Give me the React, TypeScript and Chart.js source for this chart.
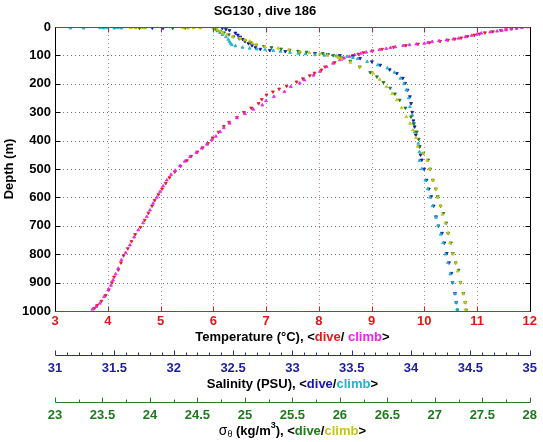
import { useEffect, useRef } from 'react';
import { Chart, registerables } from 'chart.js';

Chart.register(...registerables);

const FONT = '"Liberation Sans", Arial, Helvetica, sans-serif';
const TITLE = 'SG130 , dive 186';

// ---- Temperature (°C) ----
const tempDiveDepth = [0, 3, 6, 9, 12, 16, 20, 24, 28, 33, 38, 42, 46, 50, 55, 60, 65, 71, 78, 84, 90, 95, 100, 112, 125, 140, 151, 162, 171, 182, 193, 208, 218, 228, 239, 255, 269, 285, 300, 318, 335, 350, 370, 390, 410, 425, 440, 455, 470, 490, 510, 530, 550, 570, 590, 610, 630, 655, 680, 705, 730, 755, 780, 805, 830, 855, 880, 900, 925, 945, 965, 980, 990];
const tempDive = [11.85, 11.75, 11.65, 11.55, 11.45, 11.3, 11.15, 11.05, 10.95, 10.82, 10.7, 10.58, 10.45, 10.3, 10.1, 9.88, 9.65, 9.42, 9.2, 9.02, 8.85, 8.75, 8.65, 8.45, 8.3, 8.12, 8.05, 7.92, 7.83, 7.7, 7.58, 7.39, 7.25, 7.13, 7.01, 6.92, 6.86, 6.72, 6.58, 6.45, 6.3, 6.2, 6.1, 5.99, 5.9, 5.8, 5.7, 5.58, 5.5, 5.38, 5.27, 5.17, 5.1, 5.03, 4.96, 4.89, 4.84, 4.77, 4.7, 4.62, 4.52, 4.45, 4.38, 4.3, 4.25, 4.2, 4.12, 4.08, 4.02, 3.96, 3.88, 3.8, 3.75];
const tempClimbDepth = [0, 2.5, 5, 7.5, 10, 12.5, 15, 18, 22, 26, 30, 35, 40, 43, 46, 49, 52, 55, 58, 60.5, 63, 66, 70, 73, 76, 80, 85, 89, 93, 98, 104, 110, 116, 128, 140, 157, 170, 187, 198, 210, 228, 245, 260, 275, 290, 305, 320, 339, 355, 369, 385, 398, 413, 427, 442, 457, 473, 489, 505, 520, 539, 560, 580, 600, 621, 645, 668, 690, 715, 740, 768, 795, 820, 850, 870, 891, 910, 926, 950, 973, 985, 994];
const tempClimb = [11.95, 11.85, 11.75, 11.65, 11.55, 11.47, 11.38, 11.25, 11.08, 11.0, 10.9, 10.78, 10.65, 10.55, 10.42, 10.28, 10.15, 10.07, 10.0, 9.85, 9.72, 9.6, 9.45, 9.36, 9.28, 9.15, 9.0, 8.9, 8.8, 8.68, 8.58, 8.48, 8.4, 8.27, 8.15, 8.02, 7.9, 7.73, 7.64, 7.47, 7.35, 7.15, 7.0, 6.93, 6.76, 6.6, 6.45, 6.31, 6.2, 6.13, 6.05, 5.97, 5.88, 5.78, 5.68, 5.56, 5.46, 5.37, 5.28, 5.2, 5.12, 5.05, 4.99, 4.93, 4.86, 4.8, 4.74, 4.67, 4.58, 4.5, 4.42, 4.34, 4.26, 4.2, 4.15, 4.1, 4.06, 4.01, 3.93, 3.85, 3.78, 3.71];

// ---- Salinity (PSU) ----
const salDiveDepth = [0, 4, 8, 12, 21, 28, 35, 43, 50, 58, 65, 72, 78, 82, 86, 90, 93, 97, 100, 104, 110, 122, 134, 150, 163, 180, 198, 222, 245, 269, 300, 330, 351, 380, 421, 450, 468, 500, 539, 570, 597, 630, 668, 700, 726, 760, 797, 830, 867, 900, 938, 970, 996];
const salDive = [32.33, 32.41, 32.44, 32.47, 32.52, 32.54, 32.56, 32.58, 32.6, 32.63, 32.66, 32.69, 32.73, 32.81, 32.94, 33.06, 33.19, 33.3, 33.4, 33.51, 33.57, 33.67, 33.74, 33.82, 33.88, 33.93, 33.95, 33.97, 33.99, 34.0, 34.01, 34.02, 34.03, 34.04, 34.07, 34.08, 34.09, 34.11, 34.13, 34.15, 34.17, 34.19, 34.21, 34.23, 34.26, 34.28, 34.3, 34.32, 34.34, 34.35, 34.37, 34.38, 34.39];
const salDiveSurfDepth = [3, 4];
const salDiveSurf = [31.82, 31.91];
const salClimbDepth = [0, 4, 8, 14, 20, 27, 35, 44, 52, 58, 63, 67, 72, 75, 78, 80, 83, 86, 90, 93, 95, 98, 100, 102, 104, 108, 112, 122, 134, 145, 160, 181, 200, 222, 250, 281, 310, 339, 370, 410, 440, 470, 500, 540, 570, 600, 630, 670, 700, 730, 760, 800, 830, 870, 900, 940, 970, 995];
const salClimb = [32.33, 32.34, 32.35, 32.37, 32.39, 32.41, 32.44, 32.46, 32.47, 32.48, 32.49, 32.52, 32.58, 32.64, 32.7, 32.77, 32.84, 32.9, 32.98, 33.05, 33.11, 33.19, 33.27, 33.37, 33.46, 33.51, 33.55, 33.63, 33.72, 33.8, 33.86, 33.91, 33.94, 33.96, 33.98, 33.99, 34.01, 34.02, 34.03, 34.06, 34.07, 34.07, 34.09, 34.12, 34.14, 34.16, 34.18, 34.21, 34.23, 34.25, 34.27, 34.29, 34.31, 34.33, 34.35, 34.37, 34.38, 34.39];
const salClimbSurfDepth = [4, 4, 3, 4, 3, 4, 3, 4];
const salClimbSurf = [31.13, 31.24, 31.38, 31.41, 31.44, 31.5, 31.53, 31.56];

// ---- Potential density sigma-theta (kg/m3) ----
const sigDiveDepth = [0, 5, 10, 15, 20, 27, 34, 41, 48, 55, 63, 68, 72, 77, 81, 85, 88, 93, 97, 100, 104, 108, 120, 140, 160, 175, 195, 215, 235, 257, 285, 316, 340, 369, 395, 421, 445, 468, 500, 539, 570, 597, 630, 656, 690, 726, 760, 797, 830, 856, 900, 938, 970, 996];
const sigDive = [24.66, 24.68, 24.7, 24.74, 24.78, 24.83, 24.88, 24.94, 25.0, 25.06, 25.12, 25.2, 25.28, 25.38, 25.47, 25.56, 25.65, 25.82, 25.87, 25.93, 25.98, 26.02, 26.11, 26.21, 26.32, 26.39, 26.46, 26.53, 26.58, 26.63, 26.69, 26.75, 26.78, 26.81, 26.83, 26.84, 26.88, 26.93, 26.95, 26.98, 27.01, 27.03, 27.06, 27.09, 27.12, 27.14, 27.17, 27.19, 27.22, 27.25, 27.27, 27.3, 27.32, 27.33];
const sigDiveSurfDepth = [4, 4, 3];
const sigDiveSurf = [23.89, 24.24, 24.37];
const sigClimbDepth = [0, 5, 10, 15, 22, 28, 34, 40, 45, 50, 57, 63, 69, 75, 81, 87, 91, 95, 99, 104, 108, 112, 125, 140, 163, 185, 210, 235, 257, 285, 316, 340, 363, 390, 421, 445, 470, 500, 540, 570, 600, 630, 660, 690, 726, 760, 800, 830, 860, 900, 940, 970, 996];
const sigClimb = [24.66, 24.67, 24.71, 24.74, 24.77, 24.81, 24.87, 24.95, 25.0, 25.05, 25.08, 25.12, 25.21, 25.35, 25.46, 25.58, 25.68, 25.79, 25.87, 25.97, 25.99, 26.02, 26.11, 26.21, 26.35, 26.42, 26.49, 26.55, 26.6, 26.65, 26.7, 26.74, 26.77, 26.8, 26.82, 26.88, 26.92, 26.95, 26.98, 27.01, 27.03, 27.06, 27.08, 27.11, 27.14, 27.16, 27.19, 27.22, 27.24, 27.27, 27.3, 27.32, 27.33];
const sigClimbSurfDepth = [3, 4, 3, 4, 3, 4, 3, 4];
const sigClimbSurf = [23.8, 23.85, 23.92, 23.95, 24.35, 24.4, 24.46, 24.53];

// ---- axis ranges / ticks ----
const tempRange = [3, 12];
const salRange = [31, 35];
const sigRange = [23, 28];
const depthRange = [0, 1000];
const tempStep = 1;
const depthStep = 100;
const salStep = 0.5;
const salMinor = 0.1;
const sigStep = 0.5;
const sigMinor = 0.25;

const C = {
  red: '#dd1c1c',
  magenta: '#ee22ee',
  blue: '#1414a8',
  cyan: '#22b4c8',
  green: '#1c7c1c',
  yellow: '#c4c41c',
  tempAxis: '#c02828',
  tempLabel: '#e01818',
  salAxis: '#2a2a9c',
  salLabel: '#1c1ca0',
  sigAxis: '#2a7a2a',
  sigLabel: '#1e7a1e',
  vGrid: 'rgba(175,120,120,0.85)',
  hGrid: 'rgba(80,80,80,0.8)',
};

type Run = { t: string; c: string; size?: number; dy?: number; bold?: boolean };

function drawRuns(ctx: CanvasRenderingContext2D, runs: Run[], cx: number, cy: number) {
  const f = (r: Run) => `${r.bold === false ? '' : 'bold '}${r.size ?? 13}px ${FONT}`;
  let w = 0;
  for (const r of runs) {
    ctx.font = f(r);
    w += ctx.measureText(r.t).width;
  }
  let x = cx - w / 2;
  ctx.textBaseline = 'middle';
  ctx.textAlign = 'left';
  for (const r of runs) {
    ctx.font = f(r);
    ctx.fillStyle = r.c;
    ctx.fillText(r.t, x, cy + (r.dy ?? 0));
    x += ctx.measureText(r.t).width;
  }
}

function seg(ctx: CanvasRenderingContext2D, x1: number, y1: number, x2: number, y2: number) {
  ctx.beginPath();
  ctx.moveTo(x1, y1);
  ctx.lineTo(x2, y2);
  ctx.stroke();
}

const px = (v: number) => Math.round(v) + 0.5;

const gridPlugin = {
  id: 'dottedGrid',
  beforeDatasetsDraw(chart: any) {
    const { ctx, chartArea: a, scales } = chart;
    const sx = scales.x, sy = scales.y;
    ctx.save();
    ctx.lineWidth = 1;
    ctx.setLineDash([1, 3]);
    ctx.strokeStyle = C.vGrid;
    for (let v = tempRange[0] + tempStep; v < tempRange[1] - 1e-9; v += tempStep) {
      const x = px(sx.getPixelForValue(v));
      seg(ctx, x, a.top, x, a.bottom);
    }
    ctx.strokeStyle = C.hGrid;
    for (let v = depthRange[0] + depthStep; v < depthRange[1] - 1e-9; v += depthStep) {
      const y = px(sy.getPixelForValue(v));
      seg(ctx, a.left, y, a.right, y);
    }
    ctx.restore();
  },
};

const framePlugin = {
  id: 'matlabFrame',
  afterDraw(chart: any) {
    const { ctx, chartArea: a, scales } = chart;
    const sx = scales.x, sy = scales.y, sS = scales.xS, sD = scales.xD;
    ctx.save();
    ctx.lineWidth = 1;
    ctx.setLineDash([]);
    const L = px(a.left), R = px(a.right), T = px(a.top), B = px(a.bottom);

    ctx.strokeStyle = C.tempAxis;
    for (let v = tempRange[0]; v <= tempRange[1] + 1e-9; v += tempStep) {
      const x = px(sx.getPixelForValue(v));
      seg(ctx, x, T, x, T + 5);
      seg(ctx, x, B, x, B - 5);
    }
    ctx.strokeStyle = '#000';
    for (let v = depthRange[0]; v <= depthRange[1] + 1e-9; v += depthStep) {
      const y = px(sy.getPixelForValue(v));
      seg(ctx, L, y, L + 5, y);
      seg(ctx, R, y, R - 5, y);
    }
    ctx.strokeStyle = C.tempAxis;
    seg(ctx, L, T, R, T);
    seg(ctx, L, B, R, B);
    ctx.strokeStyle = '#000';
    seg(ctx, L, T, L, B);
    seg(ctx, R, T, R, B);

    const sTop = px(sS.top);
    ctx.strokeStyle = C.salAxis;
    seg(ctx, px(sS.getPixelForValue(salRange[0])), sTop, px(sS.getPixelForValue(salRange[1])), sTop);
    const nS = Math.round((salRange[1] - salRange[0]) / salMinor);
    for (let i = 0; i <= nS; i++) {
      const v = salRange[0] + i * salMinor;
      const major = Math.abs(v / salStep - Math.round(v / salStep)) < 1e-6;
      const x = px(sS.getPixelForValue(v));
      seg(ctx, x, sTop, x, sTop - (major ? 5 : 3));
    }
    const dTop = px(sD.top);
    ctx.strokeStyle = C.sigAxis;
    seg(ctx, px(sD.getPixelForValue(sigRange[0])), dTop, px(sD.getPixelForValue(sigRange[1])), dTop);
    const nD = Math.round((sigRange[1] - sigRange[0]) / sigMinor);
    for (let i = 0; i <= nD; i++) {
      const v = sigRange[0] + i * sigMinor;
      const major = Math.abs(v / sigStep - Math.round(v / sigStep)) < 1e-6;
      const x = px(sD.getPixelForValue(v));
      seg(ctx, x, dTop, x, dTop - (major ? 5 : 3));
    }

    const cx = (a.left + a.right) / 2;
    drawRuns(ctx, [
      { t: 'Temperature (°C), <', c: '#000' },
      { t: 'dive', c: C.red },
      { t: '/ ', c: '#000' },
      { t: 'climb', c: C.magenta },
      { t: '>', c: '#000' },
    ], cx, sx.top + 26);
    drawRuns(ctx, [
      { t: 'Salinity (PSU), <', c: '#000' },
      { t: 'dive', c: C.blue },
      { t: '/', c: '#000' },
      { t: 'climb', c: C.cyan },
      { t: '>', c: '#000' },
    ], cx, sS.top + 29);
    drawRuns(ctx, [
      { t: 'σ', c: '#000', size: 14, bold: false },
      { t: 'θ', c: '#000', size: 9, dy: 4, bold: false },
      { t: ' (kg/m', c: '#000' },
      { t: '3', c: '#000', size: 9, dy: -5 },
      { t: '), <', c: '#000' },
      { t: 'dive', c: C.green },
      { t: '/', c: '#000' },
      { t: 'climb', c: C.yellow },
      { t: '>', c: '#000' },
    ], cx, sD.top + 29);
    ctx.restore();
  },
};

function ds(label: string, depth: number[], vals: number[], color: string, axis: string, rot: number, order: number) {
  const n = Math.min(depth.length, vals.length);
  const data = [] as { x: number; y: number }[];
  for (let i = 0; i < n; i++) data.push({ x: vals[i], y: depth[i] });
  return {
    label,
    data,
    xAxisID: axis,
    yAxisID: 'y',
    showLine: false,
    pointStyle: 'triangle',
    pointRotation: rot,
    pointRadius: 1.7,
    pointHoverRadius: 1.7,
    pointBorderWidth: 0.8,
    backgroundColor: color,
    borderColor: color,
    order,
  };
}

const fmt = (v: any) => String(Math.round(Number(v) * 100) / 100);

export default function App() {
  const ref = useRef<HTMLCanvasElement>(null);
  useEffect(() => {
    document.body.style.margin = '0';
    const canvas = ref.current;
    if (!canvas) return;
    const tickFont = { family: FONT, size: 13, weight: 'bold' as const };
    const chart = new Chart(canvas, {
      type: 'scatter',
      data: {
        datasets: [
          ds('T dive', tempDiveDepth, tempDive, C.red, 'x', 180, 12),
          ds('T climb', tempClimbDepth, tempClimb, C.magenta, 'x', 0, 11),
          ds('S dive', salDiveDepth, salDive, C.blue, 'xS', 180, 10),
          ds('S dive surf', salDiveSurfDepth, salDiveSurf, C.blue, 'xS', 180, 9),
          ds('S climb', salClimbDepth, salClimb, C.cyan, 'xS', 0, 8),
          ds('S climb surf', salClimbSurfDepth, salClimbSurf, C.cyan, 'xS', 0, 7),
          ds('sig dive', sigDiveDepth, sigDive, C.green, 'xD', 180, 6),
          ds('sig dive surf', sigDiveSurfDepth, sigDiveSurf, C.green, 'xD', 180, 5),
          ds('sig climb', sigClimbDepth, sigClimb, C.yellow, 'xD', 0, 4),
          ds('sig climb surf', sigClimbSurfDepth, sigClimbSurf, C.yellow, 'xD', 0, 3),
        ] as any,
      },
      options: {
        responsive: false,
        animation: false,
        events: [],
        layout: { padding: { left: 0, right: 13, top: 0, bottom: 0 } },
        plugins: {
          legend: { display: false },
          tooltip: { enabled: false },
          title: {
            display: true,
            text: TITLE,
            color: '#000',
            font: { family: FONT, size: 13, weight: 'bold' },
            padding: { top: 4, bottom: 7.4 },
          },
        },
        scales: {
          x: {
            type: 'linear',
            position: 'bottom',
            weight: 0,
            min: tempRange[0],
            max: tempRange[1],
            ticks: { stepSize: tempStep, color: C.tempLabel, font: tickFont, padding: 3, autoSkip: false, maxRotation: 0, callback: fmt },
            grid: { display: false, drawTicks: false },
            border: { display: false },
            afterFit: (s: any) => { s.height = 44; },
          },
          xS: {
            type: 'linear',
            position: 'bottom',
            weight: 1,
            min: salRange[0],
            max: salRange[1],
            ticks: { stepSize: salStep, color: C.salLabel, font: tickFont, padding: 6, autoSkip: false, maxRotation: 0, callback: fmt },
            grid: { display: false, drawTicks: false },
            border: { display: false },
            afterFit: (s: any) => { s.height = 47; },
          },
          xD: {
            type: 'linear',
            position: 'bottom',
            weight: 2,
            min: sigRange[0],
            max: sigRange[1],
            ticks: { stepSize: sigStep, color: C.sigLabel, font: tickFont, padding: 6, autoSkip: false, maxRotation: 0, callback: fmt },
            grid: { display: false, drawTicks: false },
            border: { display: false },
            afterFit: (s: any) => { s.height = 40; },
          },
          y: {
            type: 'linear',
            position: 'left',
            reverse: true,
            min: depthRange[0],
            max: depthRange[1],
            ticks: { stepSize: depthStep, color: '#000', font: tickFont, padding: 4, callback: fmt },
            grid: { display: false, drawTicks: false },
            border: { display: false },
            title: { display: true, text: 'Depth (m)', color: '#000', font: tickFont, padding: { top: 2, bottom: 0 } },
            afterFit: (s: any) => { s.width = 55; },
          },
        },
      } as any,
      plugins: [gridPlugin, framePlugin],
    });
    return () => chart.destroy();
  }, []);
  return (
    <div style={{ width: 543, height: 442, background: '#fff' }}>
      <canvas ref={ref} width={543} height={442} style={{ display: 'block' }} />
    </div>
  );
}
